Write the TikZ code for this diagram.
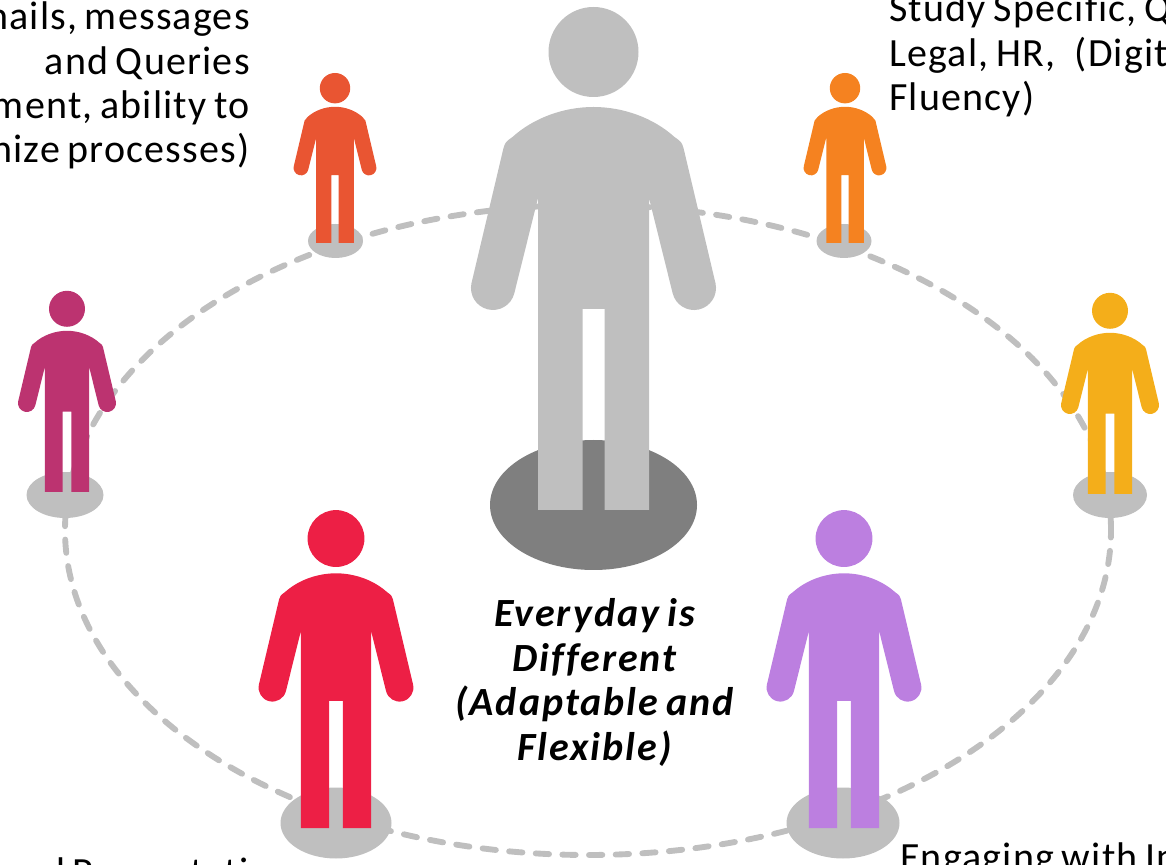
\documentclass[tikz,border=0pt]{standalone}
\usepackage{fontspec}
\setmainfont[LetterSpace=3,WordSpace=0.75,Ligatures=NoCommon]{Carlito}
\definecolor{ringgrey}{HTML}{BFBFBF}
\definecolor{basegrey}{HTML}{7F7F7F}
\definecolor{pOrangeRed}{HTML}{E95532}
\definecolor{pOrange}{HTML}{F58220}
\definecolor{pYellow}{HTML}{F4AE1A}
\definecolor{pMagenta}{HTML}{BC3370}
\definecolor{pRed}{HTML}{ED1F45}
\definecolor{pPurple}{HTML}{BC7FE0}
\tikzset{
  x=0.75pt,y=0.75pt,
  person/.pic={
    \fill[pic actions] (0,458) circle[radius=45];
    \fill[pic actions] (-55.5,0) -- (-55.5,312) -- (-79.2,216.7)
      arc[start angle=-14,end angle=-192.4,radius=22]
      -- (-90,362) .. controls (-88,368) .. (-81,373)
      .. controls (-60,392) and (-30,403) .. (0,403)
      .. controls (30,403) and (60,392) .. (81,373)
      .. controls (88,368) .. (90,362)
      -- (122,226.7)
      arc[start angle=12.4,end angle=-166,radius=22]
      -- (55.5,312) -- (55.5,0) -- (11,0) -- (11,201) -- (-11,201) -- (-11,0) -- cycle;
  },
  labeltext/.style={inner sep=0pt,font=\fontsize{30}{33.6}\selectfont,anchor=base},
  centertext/.style={inner sep=0pt,align=center,font=\fontsize{30}{33.4}\selectfont\bfseries\itshape\addfontfeatures{LetterSpace=5}},
  platform/.style={fill=ringgrey},
  ring/.style={draw=ringgrey,line width=4.4pt,line cap=round,dash pattern=on 10pt off 10pt}
}
\begin{document}
\begin{tikzpicture}
\useasboundingbox (0,0) rectangle (1166,864);
\clip (0,0) rectangle (1166,864);
% ring
\draw[ring] (588,334) ellipse[x radius=523,y radius=325];
% platforms
\fill[platform] (335.5,623) ellipse[x radius=27.5,y radius=17];
\fill[platform] (844,623) ellipse[x radius=27.5,y radius=17];
\fill[platform] (65,369) ellipse[x radius=38.5,y radius=23];
\fill[platform] (1110,369) ellipse[x radius=37,y radius=23];
\fill[platform] (336,41) ellipse[x radius=55.5,y radius=35.5];
\fill[platform] (843,41) ellipse[x radius=56.5,y radius=35.5];
\fill[basegrey] (593.5,359) ellipse[x radius=103.5,y radius=65];
% people
\pic[fill=ringgrey] at (593.5,354) {person};
\pic[fill=pOrangeRed,scale=.338] at (335,621) {person};
\pic[fill=pOrange,scale=.338] at (845,621) {person};
\pic[fill=pMagenta,scale=.4] at (67,372) {person};
\pic[fill=pYellow,scale=.4] at (1110,370) {person};
\pic[fill=pRed,scale=.632] at (336,36) {person};
\pic[fill=pPurple,scale=.632] at (844,36) {person};
% texts
\node[labeltext,anchor=base east] (a1) at (250,834) {nails, messages};
\node[labeltext,anchor=base east] (a2) at (250,789) {and Queries};
\node[labeltext,anchor=base east] (a3) at (250,745) {ment, ability to};
\node[labeltext,anchor=base east] (a4) at (250,701) {nize processes)};
\node[labeltext,anchor=base west] (b1) at (889,842) {Study Specific, Q};
\node[labeltext,anchor=base west] (b2) at (889,797) {Legal, HR,\hspace{9pt} (Digit};
\node[labeltext,anchor=base west] (b3) at (889,753) {Fluency)};
\node[labeltext,anchor=base west] (c1) at (44,-21) {d Presentati};
\node[labeltext,anchor=base west] (d1) at (900,-6) {Engaging with In};
\node[centertext] (m) at (594.5,181.5) {Everyday is\\Different\\(Adaptable and\\Flexible)};
\end{tikzpicture}
\end{document}
